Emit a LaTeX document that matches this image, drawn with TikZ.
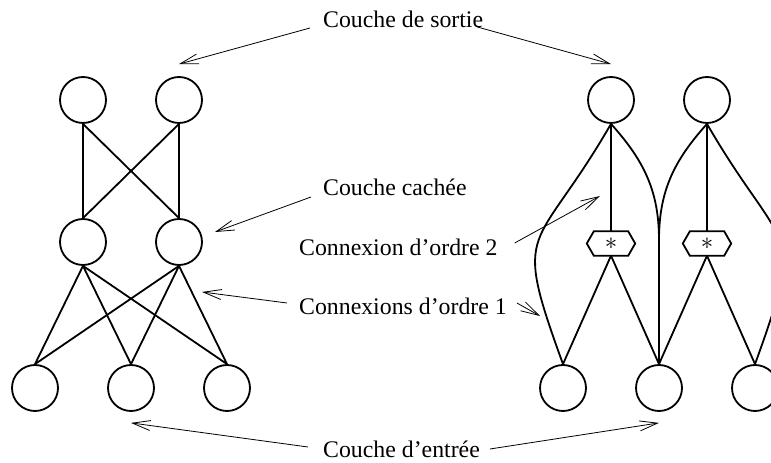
\documentclass[tikz,border=0pt]{standalone}
\usepackage{fontspec}
\setmainfont{Liberation Serif}
\usetikzlibrary{arrows.meta}

\newcommand{\hexagone}[1]
{
\draw[poids] (#1.north west) -- (#1.north east) -- ([xshift=7pt]#1.east)
  -- (#1.south east) -- (#1.south west) -- ([xshift=-7pt]#1.west) -- cycle;
}

\tikzset{
  neurone/.style={draw, circle, line width=1.8pt, minimum size=46pt, inner sep=0pt},
  produit/.style={inner sep=0pt, minimum width=34pt, minimum height=24pt},
  poids/.style={line width=1.8pt},
  legende/.style={font=\fontsize{23.8}{28}\selectfont, inner sep=0pt, anchor=base west},
  fleche/.style={line width=0.8pt, -{Straight Barb[length=18pt,width=10pt]}},
}

\begin{document}
\begin{tikzpicture}[x=1pt, y=1pt]
  \useasboundingbox (0,0) rectangle (771,463);
  \clip (0,0) rectangle (771,463);

  % reseau d'ordre 1
  \node[neurone] (s1) at (83,363) {};
  \node[neurone] (s2) at (179,363) {};
  \node[neurone] (c1) at (83,221) {};
  \node[neurone] (c2) at (179,221) {};
  \node[neurone] (e1) at (35,75) {};
  \node[neurone] (e2) at (131,75) {};
  \node[neurone] (e3) at (227,75) {};

  \foreach \a in {s1,s2}
    \foreach \b in {c1,c2}
      \draw[poids] (\a.south) -- (\b.north);
  \foreach \a in {c1,c2}
    \foreach \b in {e1,e2,e3}
      \draw[poids] (\a.south) -- (\b.north);

  % reseau d'ordre 2
  \node[neurone] (r1) at (611,363) {};
  \node[neurone] (r2) at (707,363) {};
  \node[produit] (h1) at (611,219.5) {\raisebox{-3pt}{\fontsize{26}{26}\selectfont$\ast$}};
  \node[produit] (h2) at (707,219.5) {\raisebox{-3pt}{\fontsize{26}{26}\selectfont$\ast$}};
  \hexagone{h1}
  \hexagone{h2}
  \node[neurone] (f1) at (563,75) {};
  \node[neurone] (f2) at (659,75) {};
  \node[neurone] (f3) at (755,75) {};
  \coordinate (m) at (659,223);

  \draw[poids] (r1.south) -- (h1.north);
  \draw[poids] (r2.south) -- (h2.north);
  \draw[poids] (h1.south) -- (f1.north);
  \draw[poids] (h1.south) -- (f2.north);
  \draw[poids] (h2.south) -- (f2.north);
  \draw[poids] (h2.south) -- (f3.north);

  \draw[poids] (r1.south) to[out=-120, in=110, looseness=1.6] (f1.north);
  \draw[poids] (r1.south) to[out=-48, in=90] (m) -- (f2.north);
  \draw[poids] (r2.south) to[out=-132, in=90] (m);
  \draw[poids] (r2.south) to[out=-60, in=70, looseness=1.6] (f3.north);

  % legendes
  \node[legende] (sortie) at (323,435) {Couche de sortie};
  \node[legende] (cachee) at (323,267) {Couche cachée};
  \node[legende] (ordre2) at (299,207) {Connexion d'ordre 2};
  \node[legende] (ordre1) at (299,148) {Connexions d'ordre 1};
  \node[legende] (entree) at (323,5) {Couche d'entrée};

  \draw[fleche] ([xshift=-13pt]sortie.base west) -- ([yshift=12pt]s2.north);
  \draw[fleche] ([shift={(-6pt,1pt)}]sortie.base east) -- ([yshift=12pt]r1.north);
  \draw[fleche] ([shift={(-12pt,-1pt)}]cachee.base west) -- ([shift={(36pt,10pt)}]c2.center);
  \draw[fleche] ([shift={(17pt,13pt)}]ordre2.base east) -- ([shift={(-11pt,47.5pt)}]h1.center);
  \draw[fleche] ([shift={(-12pt,12pt)}]ordre1.base west) -- ([shift={(23pt,-50pt)}]c2.center);
  \draw[fleche] ([shift={(10pt,12pt)}]ordre1.base east) -- ([shift={(-23pt,72pt)}]f1.center);
  \draw[fleche] ([shift={(-15pt,11pt)}]entree.base west) -- ([yshift=-11pt]e2.south);
  \draw[fleche] ([shift={(10pt,9pt)}]entree.base east) -- ([yshift=-11pt]f2.south);
\end{tikzpicture}
\end{document}
